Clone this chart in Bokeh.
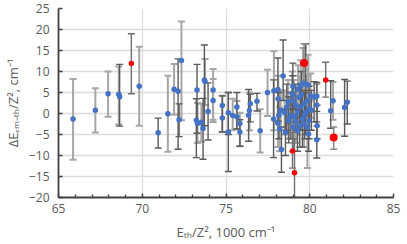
from bokeh.plotting import figure
from bokeh.models import (Range1d, ColumnDataSource, Whisker, TeeHead,
                          FixedTicker)
from bokeh.embed import file_html
from bokeh.resources import INLINE

# ---------------- data ----------------
# series with light-grey error bars
a_x  = [65.87, 67.20, 67.96, 68.60, 69.82, 71.53, 71.90, 72.34, 73.30, 73.53,
        73.75, 74.23, 74.23, 74.78, 75.40, 75.65, 75.83, 76.40, 77.04, 77.48,
        77.86, 78.12, 78.10, 78.27, 78.20, 78.71, 78.95, 79.46, 79.60, 79.90,
        80.42, 79.06, 79.36, 79.66, 79.86, 79.27, 79.17, 79.66, 79.86, 78.73,
        79.30, 79.10, 80.05, 78.50, 81.39]
a_y  = [-1.3, 0.8, 4.7, 4.6, 6.5, -0.05, 5.75, 12.6, -2.4, -2.1,
        7.6, 5.6, 3.1, -1.1, -0.5, -0.76, -2.4, 0.7, -4.1, 5.0,
        5.4, 3.5, -2.3, 0.7, -3.7, 2.8, 4.8, 6.6, 7.2, 6.8,
        2.0, 3.05, 3.85, 2.3, 3.05, 0.3, -2.0, -2.5, -3.3, -1.7,
        5.8, -0.8, 4.2, 0.2, 3.05]
a_lo = [-11.0, -4.5, -0.8, -2.6, -2.9, -9.1, -0.3, -1.6, -7.0, -6.7,
        2.0, -2.0, -1.5, -4.4, -4.0, -3.7, -7.8, -4.0, -9.3, -0.6,
        -4.0, -2.0, -8.0, -4.0, -9.0, -2.5, -1.0, 0.5, 1.0, -1.0,
        -3.0, -2.0, -2.0, -3.0, -3.0, -5.0, -7.0, -8.0, -13.0, -6.0,
        0.0, -6.0, -1.0, -5.0, -1.5]
a_hi = [8.2, 6.0, 10.0, 11.2, 15.9, 9.0, 11.8, 21.9, 2.5, 2.3,
        13.0, 10.6, 8.2, 4.2, 3.5, 3.0, 0.2, 5.0, 1.0, 10.4,
        14.8, 9.0, 3.5, 5.5, 1.5, 8.0, 10.0, 12.7, 15.6, 14.0,
        7.0, 8.0, 9.0, 8.0, 9.0, 6.0, 3.0, 3.0, 4.0, 3.0,
        11.5, 4.0, 9.5, 5.5, 7.5]

# series with dark-grey error bars
b_x  = [68.65, 70.95, 72.14, 72.20, 73.27, 73.23, 73.63, 73.71, 73.93, 74.78,
        75.14, 75.14, 75.65, 75.83, 76.35, 76.45, 76.85, 77.84, 78.10, 78.15,
        78.41, 78.31, 78.75, 78.99, 79.76, 80.26, 80.42, 80.44, 80.42, 78.97,
        79.17, 79.46, 79.76, 79.96, 78.87, 79.56, 79.96, 79.27, 79.93, 78.63,
        79.50, 79.40, 80.10, 79.70, 79.00, 78.55, 81.25, 82.08, 82.24]
b_y  = [4.0, -4.6, 5.3, -1.5, 5.6, -1.6, -3.55, 8.0, 0.5, 1.9,
        0.2, -4.4, 1.55, -4.4, -0.4, 2.3, 2.9, -1.3, 5.7, -0.5,
        8.9, -8.6, -1.5, 6.5, 7.0, 3.85, 4.1, -2.9, -6.25, 4.4,
        1.9, 1.5, 0.26, 1.2, -0.5, -1.3, -1.7, -4.1, -4.9, 1.5,
        4.5, -3.0, 0.8, -0.3, -3.3, -4.5, 0.67, 1.4, 2.65]
b_lo = [-3.0, -8.2, -8.5, -5.5, -4.7, -10.5, -10.9, -2.9, -6.3, -4.4,
        -5.0, -13.8, -3.7, -7.8, -6.6, -2.0, 0.6, -10.5, -1.8, -6.0,
        3.1, -14.0, -7.0, 1.0, 0.5, -2.0, 0.5, -6.0, -10.6, -1.0,
        -4.0, -4.0, -5.0, -4.0, -6.0, -8.0, -6.0, -9.0, -9.0, -4.0,
        -1.0, -8.0, -4.0, -6.0, -9.0, -10.0, -3.5, -5.4, -2.5]
b_hi = [11.7, -1.1, 13.0, 2.3, 11.7, 3.5, 3.6, 16.3, 7.3, 4.2,
        5.0, 5.0, 5.0, -1.5, 5.7, 4.6, 4.8, 8.0, 13.2, 5.0,
        17.5, -3.2, 4.0, 12.0, 16.6, 7.6, 7.4, 2.0, -2.0, 9.0,
        7.0, 7.0, 5.5, 6.5, 5.0, 5.0, 3.0, 1.0, -0.5, 7.0,
        10.0, 2.0, 5.5, 5.0, 2.0, 1.0, 7.8, 8.1, 7.7]

# red points (small and large)
r_x  = [69.35, 78.97, 79.09, 80.95]
r_y  = [11.9, -8.9, -14.1, 8.0]
r_lo = [4.7, -13.0, -20.0, 3.9]
r_hi = [19.0, -4.5, -6.0, 12.2]
rb_x  = [79.66, 81.43]
rb_y  = [12.05, -5.7]
rb_lo = [7.5, -8.5]
rb_hi = [16.6, -3.2]

x_major = [65, 70, 75, 80, 85]
y_major = [-20, -15, -10, -5, 0, 5, 10, 15, 20, 25]

# ---------------- figure ----------------
p = figure(width=407, height=244, output_backend="svg", toolbar_location=None,
           x_range=Range1d(65, 85), y_range=Range1d(-20, 25),
           min_border_left=57, min_border_right=14, min_border_top=8,
           min_border_bottom=47)
p.outline_line_color = None
p.background_fill_color = "white"
p.border_fill_color = "white"

FONT = "Open Sans"
TICK_COL = "#595959"
AX_COL = "#404040"

p.xaxis.ticker = FixedTicker(ticks=x_major, minor_ticks=list(range(65, 86)))
p.yaxis.ticker = FixedTicker(ticks=y_major)
p.xgrid.ticker = FixedTicker(ticks=x_major)
p.ygrid.ticker = FixedTicker(ticks=y_major)
for g in (p.xgrid, p.ygrid):
    g.grid_line_color = "#dcdcdc"
    g.grid_line_width = 1.3

for ax in (p.xaxis, p.yaxis):
    ax.axis_line_color = AX_COL
    ax.axis_line_width = 1.8
    ax.major_tick_line_color = AX_COL
    ax.major_tick_line_width = 1.3
    ax.minor_tick_line_color = AX_COL
    ax.minor_tick_line_width = 1.3
    ax.major_tick_out = 0
    ax.major_tick_in = 4
    ax.minor_tick_out = 0
    ax.major_label_text_font = FONT
    ax.major_label_text_font_size = "12px"
    ax.major_label_text_color = TICK_COL
    ax.axis_label_text_font = FONT
    ax.axis_label_text_font_size = "13px"
    ax.axis_label_text_font_style = "normal"
    ax.axis_label_text_color = TICK_COL

p.xaxis.minor_tick_in = 3
p.yaxis.minor_tick_in = 0
p.xaxis.major_label_standoff = 6
p.yaxis.major_label_standoff = 9
p.xaxis.axis_label_standoff = 7
p.yaxis.axis_label_standoff = 4
p.xaxis.axis_label = "Eₜₕ/Z², 1000 cm⁻¹"
p.yaxis.axis_label = "ΔEₑₘ₋ₜₕ/Z², cm⁻¹"


def bars(xs, lo, hi, color, width):
    src = ColumnDataSource(dict(x=xs, lo=lo, hi=hi))
    w = Whisker(base="x", lower="lo", upper="hi", source=src,
                line_color=color, line_width=width,
                upper_head=TeeHead(size=7, line_color=color, line_width=width),
                lower_head=TeeHead(size=7, line_color=color, line_width=width))
    p.add_layout(w)


bars(a_x, a_lo, a_hi, "#a6a6a6", 2.0)
bars(b_x, b_lo, b_hi, "#595959", 1.4)
bars(r_x, r_lo, r_hi, "#6f6f6f", 1.4)
bars(rb_x, rb_lo, rb_hi, "#8a8a8a", 1.6)

BLUE = "#4472c4"
p.scatter(a_x, a_y, size=5.5, color=BLUE, line_color=None)
p.scatter(b_x, b_y, size=5.5, color=BLUE, line_color=None)
p.scatter(r_x, r_y, size=5.5, color="#ff0000", line_color=None)
p.scatter(rb_x, rb_y, size=8, color="#ff0000", line_color=None)

open("out.html", "w").write(file_html(p, INLINE))
